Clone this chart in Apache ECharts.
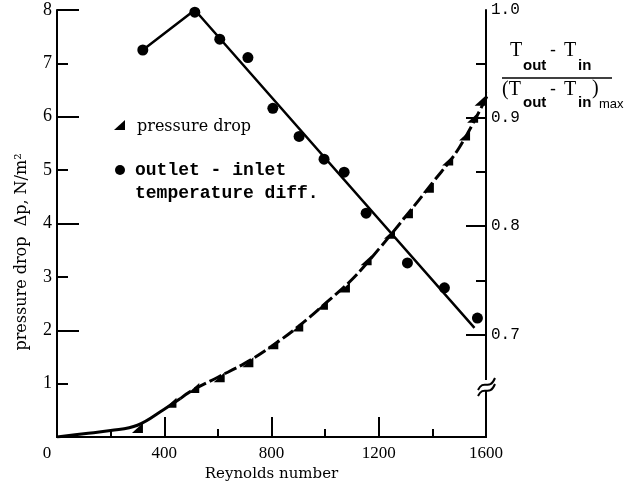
<!DOCTYPE html>
<html><head><meta charset="utf-8">
<script src="https://cdn.jsdelivr.net/npm/echarts@6/dist/echarts.min.js"></script>
<style>html,body{margin:0;padding:0;background:#fff}#c{width:628px;height:489px}</style>
</head><body><div id="c"></div>
<script>
// Pressure drop measurements (Reynolds number, N/m^2)
const pressRe = [300, 425, 510, 605, 712, 805, 898, 990, 1072, 1153, 1240, 1307, 1385, 1457, 1520, 1550, 1578];
const pressVal = [0.17, 0.64, 0.92, 1.12, 1.40, 1.74, 2.07, 2.48, 2.80, 3.31, 3.81, 4.19, 4.67, 5.18, 5.65, 5.98, 6.30];
// Pressure drop fitted curve
const fitLowRe = [0, 100, 200, 300, 400, 460];
const fitLowVal = [0, 0.06, 0.12, 0.22, 0.52, 0.72];
const fitHighRe = [460, 500, 600, 700, 800, 900, 1000, 1100, 1200, 1300, 1400, 1500, 1610];
const fitHighVal = [0.72, 0.86, 1.12, 1.38, 1.70, 2.07, 2.50, 2.95, 3.52, 4.13, 4.76, 5.42, 6.45];
// Normalised outlet-inlet temperature difference
const tempRe = [320, 514, 607, 712, 805, 903, 996, 1071, 1153, 1307, 1445, 1568];
const tempVal = [0.963, 0.998, 0.973, 0.956, 0.909, 0.883, 0.862, 0.850, 0.812, 0.766, 0.743, 0.715];
// Temperature fitted line
const tempFitRe = [320, 514, 1557];
const tempFitVal = [0.963, 1.0, 0.706];
// Right axis tick values
const rightLabels = [0.7, 0.8, 0.9, 1.0];
const rightMajor = [0.7, 0.8, 0.9];
const rightMinor = [0.75, 0.85, 0.95];

const zip = (a, b) => a.map((v, i) => [v, b[i]]);
const K = () => ({color: '#000', width: 2});
const chart = echarts.init(document.getElementById('c'));

chart.setOption({
  animation: false,
  backgroundColor: '#fff',
  grid: {left: 57, right: 142, top: 10, bottom: 52},
  xAxis: [{
    type: 'value', min: 0, max: 1600, interval: 400, position: 'bottom',
    axisLine: {show: true, lineStyle: K()},
    axisTick: {show: true, inside: true, length: 20, lineStyle: K()},
    minorTick: {show: true, splitNumber: 2, length: 8, lineStyle: K()},
    splitLine: {show: false},
    axisLabel: {margin: 8, color: '#000', fontFamily: 'Liberation Serif', fontSize: 17,
      formatter: v => v === 0 ? '{z|0}' : String(v),
      rich: {z: {fontFamily: 'Liberation Serif', fontSize: 17, color: '#000', padding: [0, 20, 0, 0]}}},
    name: 'Reynolds number', nameLocation: 'middle', nameGap: 30,
    nameTextStyle: {color: '#000', fontFamily: 'DejaVu Serif', fontSize: 15}
  }, {
    type: 'value', min: 0, max: 1600, position: 'top',
    axisLine: {show: true, lineStyle: K()}, axisTick: {show: false}, axisLabel: {show: false}, splitLine: {show: false}
  }],
  yAxis: [
    {type: 'value', min: 0, max: 8, interval: 1, position: 'left',
     axisLine: {show: true, lineStyle: K()},
     axisTick: {show: true, inside: true, length: 11, lineStyle: K()},
     splitLine: {show: false},
     axisLabel: {margin: 5, color: '#000', fontFamily: 'Liberation Serif', fontSize: 18,
       formatter: v => v === 0 ? '' : String(v)}},
    {type: 'value', min: 0, max: 8, interval: 2, position: 'left',
     axisLine: {show: false},
     axisTick: {show: true, inside: true, length: 22, lineStyle: K()},
     splitLine: {show: false}, axisLabel: {show: false}},
    {type: 'value', min: 0.605, max: 1.0, position: 'right',
     axisLine: {show: true, lineStyle: K()},
     axisTick: {show: true, inside: true, length: 20, customValues: rightMajor, lineStyle: K()},
     splitLine: {show: false},
     axisLabel: {customValues: rightLabels, margin: 5, color: '#000', fontFamily: 'Liberation Mono', fontSize: 16,
       formatter: v => v.toFixed(1)}},
    {type: 'value', min: 0.605, max: 1.0, position: 'right',
     axisLine: {show: false},
     axisTick: {show: true, inside: true, length: 10, customValues: rightMinor, lineStyle: K()},
     splitLine: {show: false}, axisLabel: {show: false}}
  ],
  series: [
    {type: 'line', yAxisIndex: 0, data: zip(fitLowRe, fitLowVal), smooth: 0.4, showSymbol: false,
     lineStyle: {color: '#000', width: 3}},
    {type: 'line', yAxisIndex: 0, data: zip(fitHighRe, fitHighVal), smooth: 0.4, showSymbol: false,
     lineStyle: {color: '#000', width: 3, type: [13, 4]}},
    {type: 'scatter', name: 'pressure drop', yAxisIndex: 0, data: zip(pressRe, pressVal),
     symbol: 'path://M10,0 L10,10 L0,10 Z', symbolSize: [11, 10], itemStyle: {color: '#000', opacity: 1}},
    {type: 'line', yAxisIndex: 2, data: zip(tempFitRe, tempFitVal), showSymbol: false,
     lineStyle: {color: '#000', width: 2.5}},
    {type: 'scatter', name: 'outlet - inlet temperature diff.', yAxisIndex: 2, data: zip(tempRe, tempVal),
     symbol: 'circle', symbolSize: 11, itemStyle: {color: '#000', opacity: 1}}
  ],
  graphic: [
    // legend
    {type: 'polygon', shape: {points: [[125, 120], [125, 130], [114, 130]]}, style: {fill: '#000'}},
    {type: 'text', x: 137, y: 127, style: {text: 'pressure drop', fill: '#000', font: '16px "DejaVu Serif"', verticalAlign: 'middle'}},
    {type: 'circle', shape: {cx: 120, cy: 170, r: 5}, style: {fill: '#000'}},
    {type: 'text', x: 135, y: 170, style: {text: 'outlet - inlet', fill: '#000', font: 'bold 18px "Liberation Mono"', verticalAlign: 'middle'}},
    {type: 'text', x: 135, y: 193, style: {text: 'temperature diff.', fill: '#000', font: 'bold 18px "Liberation Mono"', verticalAlign: 'middle'}},
    // left axis title
    {type: 'text', x: 22, y: 252, rotation: Math.PI / 2,
     style: {text: 'pressure drop  \u0394p, N/m\u00b2', fill: '#000', font: '16px "DejaVu Serif"', align: 'center', verticalAlign: 'middle'}},
    // right axis title (fraction)
    {type: 'text', x: 510, y: 51, style: {text: 'T', fill: '#000', font: '20px "Liberation Serif"', verticalAlign: 'middle'}},
    {type: 'text', x: 523, y: 66, style: {text: 'out', fill: '#000', font: 'bold 15px "Liberation Sans"', verticalAlign: 'middle'}},
    {type: 'text', x: 550, y: 51, style: {text: '-', fill: '#000', font: '18px "Liberation Sans"', verticalAlign: 'middle'}},
    {type: 'text', x: 564, y: 51, style: {text: 'T', fill: '#000', font: '20px "Liberation Serif"', verticalAlign: 'middle'}},
    {type: 'text', x: 578, y: 66, style: {text: 'in', fill: '#000', font: 'bold 15px "Liberation Sans"', verticalAlign: 'middle'}},
    {type: 'line', shape: {x1: 502, y1: 78, x2: 612, y2: 78}, style: {stroke: '#000', lineWidth: 1.5}},
    {type: 'text', x: 502, y: 90, style: {text: '(T', fill: '#000', font: '20px "Liberation Serif"', verticalAlign: 'middle'}},
    {type: 'text', x: 523, y: 103, style: {text: 'out', fill: '#000', font: 'bold 15px "Liberation Sans"', verticalAlign: 'middle'}},
    {type: 'text', x: 550, y: 90, style: {text: '-', fill: '#000', font: '18px "Liberation Sans"', verticalAlign: 'middle'}},
    {type: 'text', x: 564, y: 90, style: {text: 'T', fill: '#000', font: '20px "Liberation Serif"', verticalAlign: 'middle'}},
    {type: 'text', x: 592, y: 89, style: {text: ')', fill: '#000', font: '20px "Liberation Serif"', verticalAlign: 'middle'}},
    {type: 'text', x: 578, y: 103, style: {text: 'in', fill: '#000', font: 'bold 15px "Liberation Sans"', verticalAlign: 'middle'}},
    {type: 'text', x: 599, y: 104, style: {text: 'max', fill: '#000', font: '13px "Liberation Sans"', verticalAlign: 'middle'}},
    // axis break mark
    {type: 'rect', shape: {x: 482, y: 380, width: 8, height: 10}, style: {fill: '#fff'}, z: 100},
    {type: 'bezierCurve', shape: {x1: 478, y1: 390, x2: 495, y2: 378, cpx1: 484, cpy1: 378, cpx2: 489, cpy2: 392}, style: {stroke: '#000', lineWidth: 2, fill: null}, z: 101},
    {type: 'bezierCurve', shape: {x1: 478, y1: 396, x2: 495, y2: 384, cpx1: 484, cpy1: 384, cpx2: 489, cpy2: 398}, style: {stroke: '#000', lineWidth: 2, fill: null}, z: 101}
  ]
});
</script></body></html>
